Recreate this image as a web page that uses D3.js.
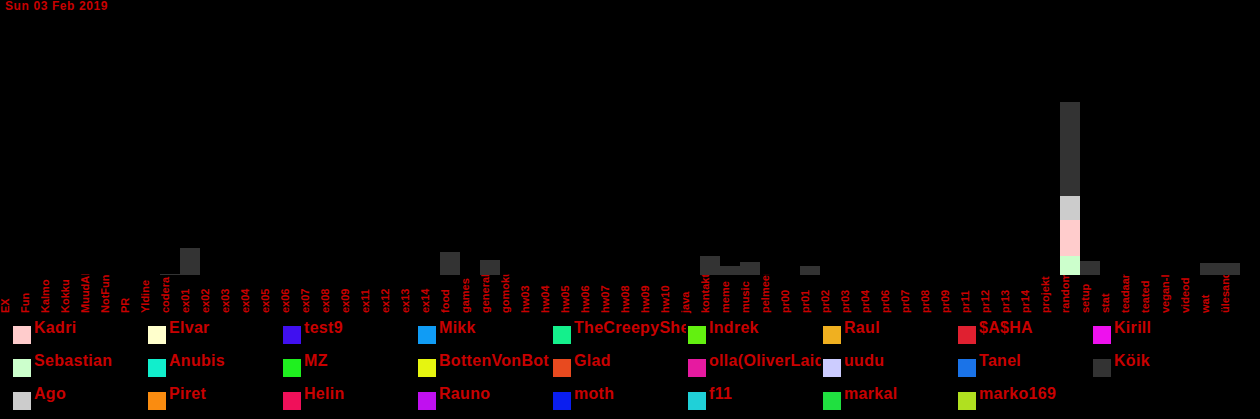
<!DOCTYPE html>
<html>
<head>
<meta charset="utf-8">
<script src="https://cdn.jsdelivr.net/npm/d3@7"></script>
<style>
  html, body { margin: 0; padding: 0; background: #000; overflow: hidden; }
  svg { display: block; }
</style>
</head>
<body>
<svg id="chart" width="1260" height="419"></svg>
<script>
const title = "Sun 03 Feb 2019";

const categories = ["EX","Fun","Kalmo","Kokku","MuudAI","NotFun","PR","Yldine","codera",
  "ex01","ex02","ex03","ex04","ex05","ex06","ex07","ex08","ex09","ex11","ex12","ex13","ex14",
  "food","games","general","gomoku","hw03","hw04","hw05","hw06","hw07","hw08","hw09","hw10",
  "java","kontaktid","meme","music","pelmeenid","pr00","pr01","pr02","pr03","pr04","pr06",
  "pr07","pr08","pr09","pr11","pr12","pr13","pr14","projekt","random","setup","stat",
  "teadaanded","teated","vegan-life","videod","wat","ülesanded"];

// legend order (column-major, 3 rows)
const users = ["Kadri","Sebastian","Ago","Elvar","Anubis","Piret","test9","MZ","Helin",
  "Mikk","BottenVonBot","Rauno","TheCreepySheep","Glad","moth","Indrek","olla(OliverLaidre)","f11",
  "Raul","uudu","markal","$A$HA","Tanel","marko169","Kirill","Köik"];

const userColors = ["#ffcccc","#ccffcc","#cccccc","#ffffcc","#11eecc","#fa8c10","#4010f0","#1ff01f","#f0105a",
  "#109cf5","#e6f510","#c010f0","#14f08c","#e84a1f","#0a1ef0","#63f010","#e61aa0","#20d0d8",
  "#f0b020","#ccccff","#20e040","#e02030","#1a73e8","#b0e020","#ee11ee","#333333"];

// per-channel message values for users that have any (others are 0)
const valuesKoik = {
  "codera": 1, "ex01": 27, "food": 23, "general": 15, "kontaktid": 19, "meme": 9,
  "music": 13, "pr01": 9, "random": 94, "setup": 14, "wat": 12, "ülesanded": 12
};
const valuesSebastian = { "random": 19 };
const valuesKadri = { "random": 36 };
const valuesAgo = { "random": 24 };

// bottom-to-top stacking order
const stackOrder = ["Sebastian","Kadri","Ago","Köik"];

const seriesValues = { "Köik": valuesKoik, "Sebastian": valuesSebastian, "Kadri": valuesKadri, "Ago": valuesAgo };

const table = categories.map(c => {
  const row = { category: c };
  stackOrder.forEach(u => { row[u] = (seriesValues[u] && seriesValues[u][c]) || 0; });
  return row;
});

const red = "#c80000";
const svg = d3.select("#chart");
svg.append("rect").attr("width", 1260).attr("height", 419).attr("fill", "#000");
const defs = svg.append("defs");

const baseY = 275, topY = 102;
const x = d3.scaleBand().domain(categories).range([0, 1240]).padding(0);
const stacked = d3.stack().keys(stackOrder)(table);
const maxTotal = d3.max(stacked[stacked.length - 1], d => d[1]);
const y = d3.scaleLinear().domain([0, maxTotal]).range([baseY, topY]);
const color = d3.scaleOrdinal().domain(users).range(userColors);

// title
svg.append("text").attr("x", 5).attr("y", 10)
  .attr("fill", red).attr("font-family", "Liberation Sans, Arial, sans-serif")
  .attr("font-size", 12).attr("font-weight", "bold").attr("letter-spacing", 0.6)
  .text(title);

// x axis labels (clipped below bar baseline)
defs.append("clipPath").attr("id", "labelClip")
  .append("rect").attr("x", 0).attr("y", baseY - 0.5).attr("width", 1260).attr("height", 45);

const axisG = svg.append("g").attr("clip-path", "url(#labelClip)");
const xAxis = d3.axisBottom(x).tickSize(0).tickPadding(0);
axisG.append("g").attr("transform", `translate(0,${baseY})`).call(xAxis)
  .call(g => g.select(".domain").remove())
  .call(g => g.selectAll(".tick text")
    .attr("fill", red)
    .attr("font-family", "Liberation Sans, Arial, sans-serif")
    .attr("font-size", 11).attr("font-weight", "bold")
    .attr("text-anchor", "start")
    .attr("dy", null)
    .attr("transform", `translate(${-x.bandwidth()/2 + 9},${313 - baseY}) rotate(-90)`)
    .attr("x", 0).attr("y", 0));

// bars
svg.append("g").selectAll("g").data(stacked).join("g")
  .attr("fill", d => color(d.key))
  .selectAll("rect").data(d => d).join("rect")
  .attr("x", d => x(d.data.category))
  .attr("width", x.bandwidth())
  .attr("y", d => y(d[1]))
  .attr("height", d => y(d[0]) - y(d[1]));

// legend
const colW = 135, rowH = 33;
const legend = svg.append("g");
users.forEach((u, i) => {
  const col = Math.floor(i / 3), row = i % 3;
  const lx = 13 + col * colW, ly = 326 + row * rowH;
  defs.append("clipPath").attr("id", "lc" + i)
    .append("rect").attr("x", lx).attr("y", ly - 20).attr("width", colW - 2).attr("height", 40);
  const g = legend.append("g").attr("clip-path", `url(#lc${i})`);
  g.append("rect").attr("x", lx).attr("y", ly).attr("width", 18).attr("height", 18)
    .attr("fill", color(u));
  g.append("text").attr("x", lx + 21).attr("y", ly + 7)
    .attr("fill", red).attr("font-family", "Liberation Sans, Arial, sans-serif")
    .attr("font-size", 16).attr("font-weight", "bold").attr("letter-spacing", 0.3)
    .text(u);
});
</script>
</body>
</html>
